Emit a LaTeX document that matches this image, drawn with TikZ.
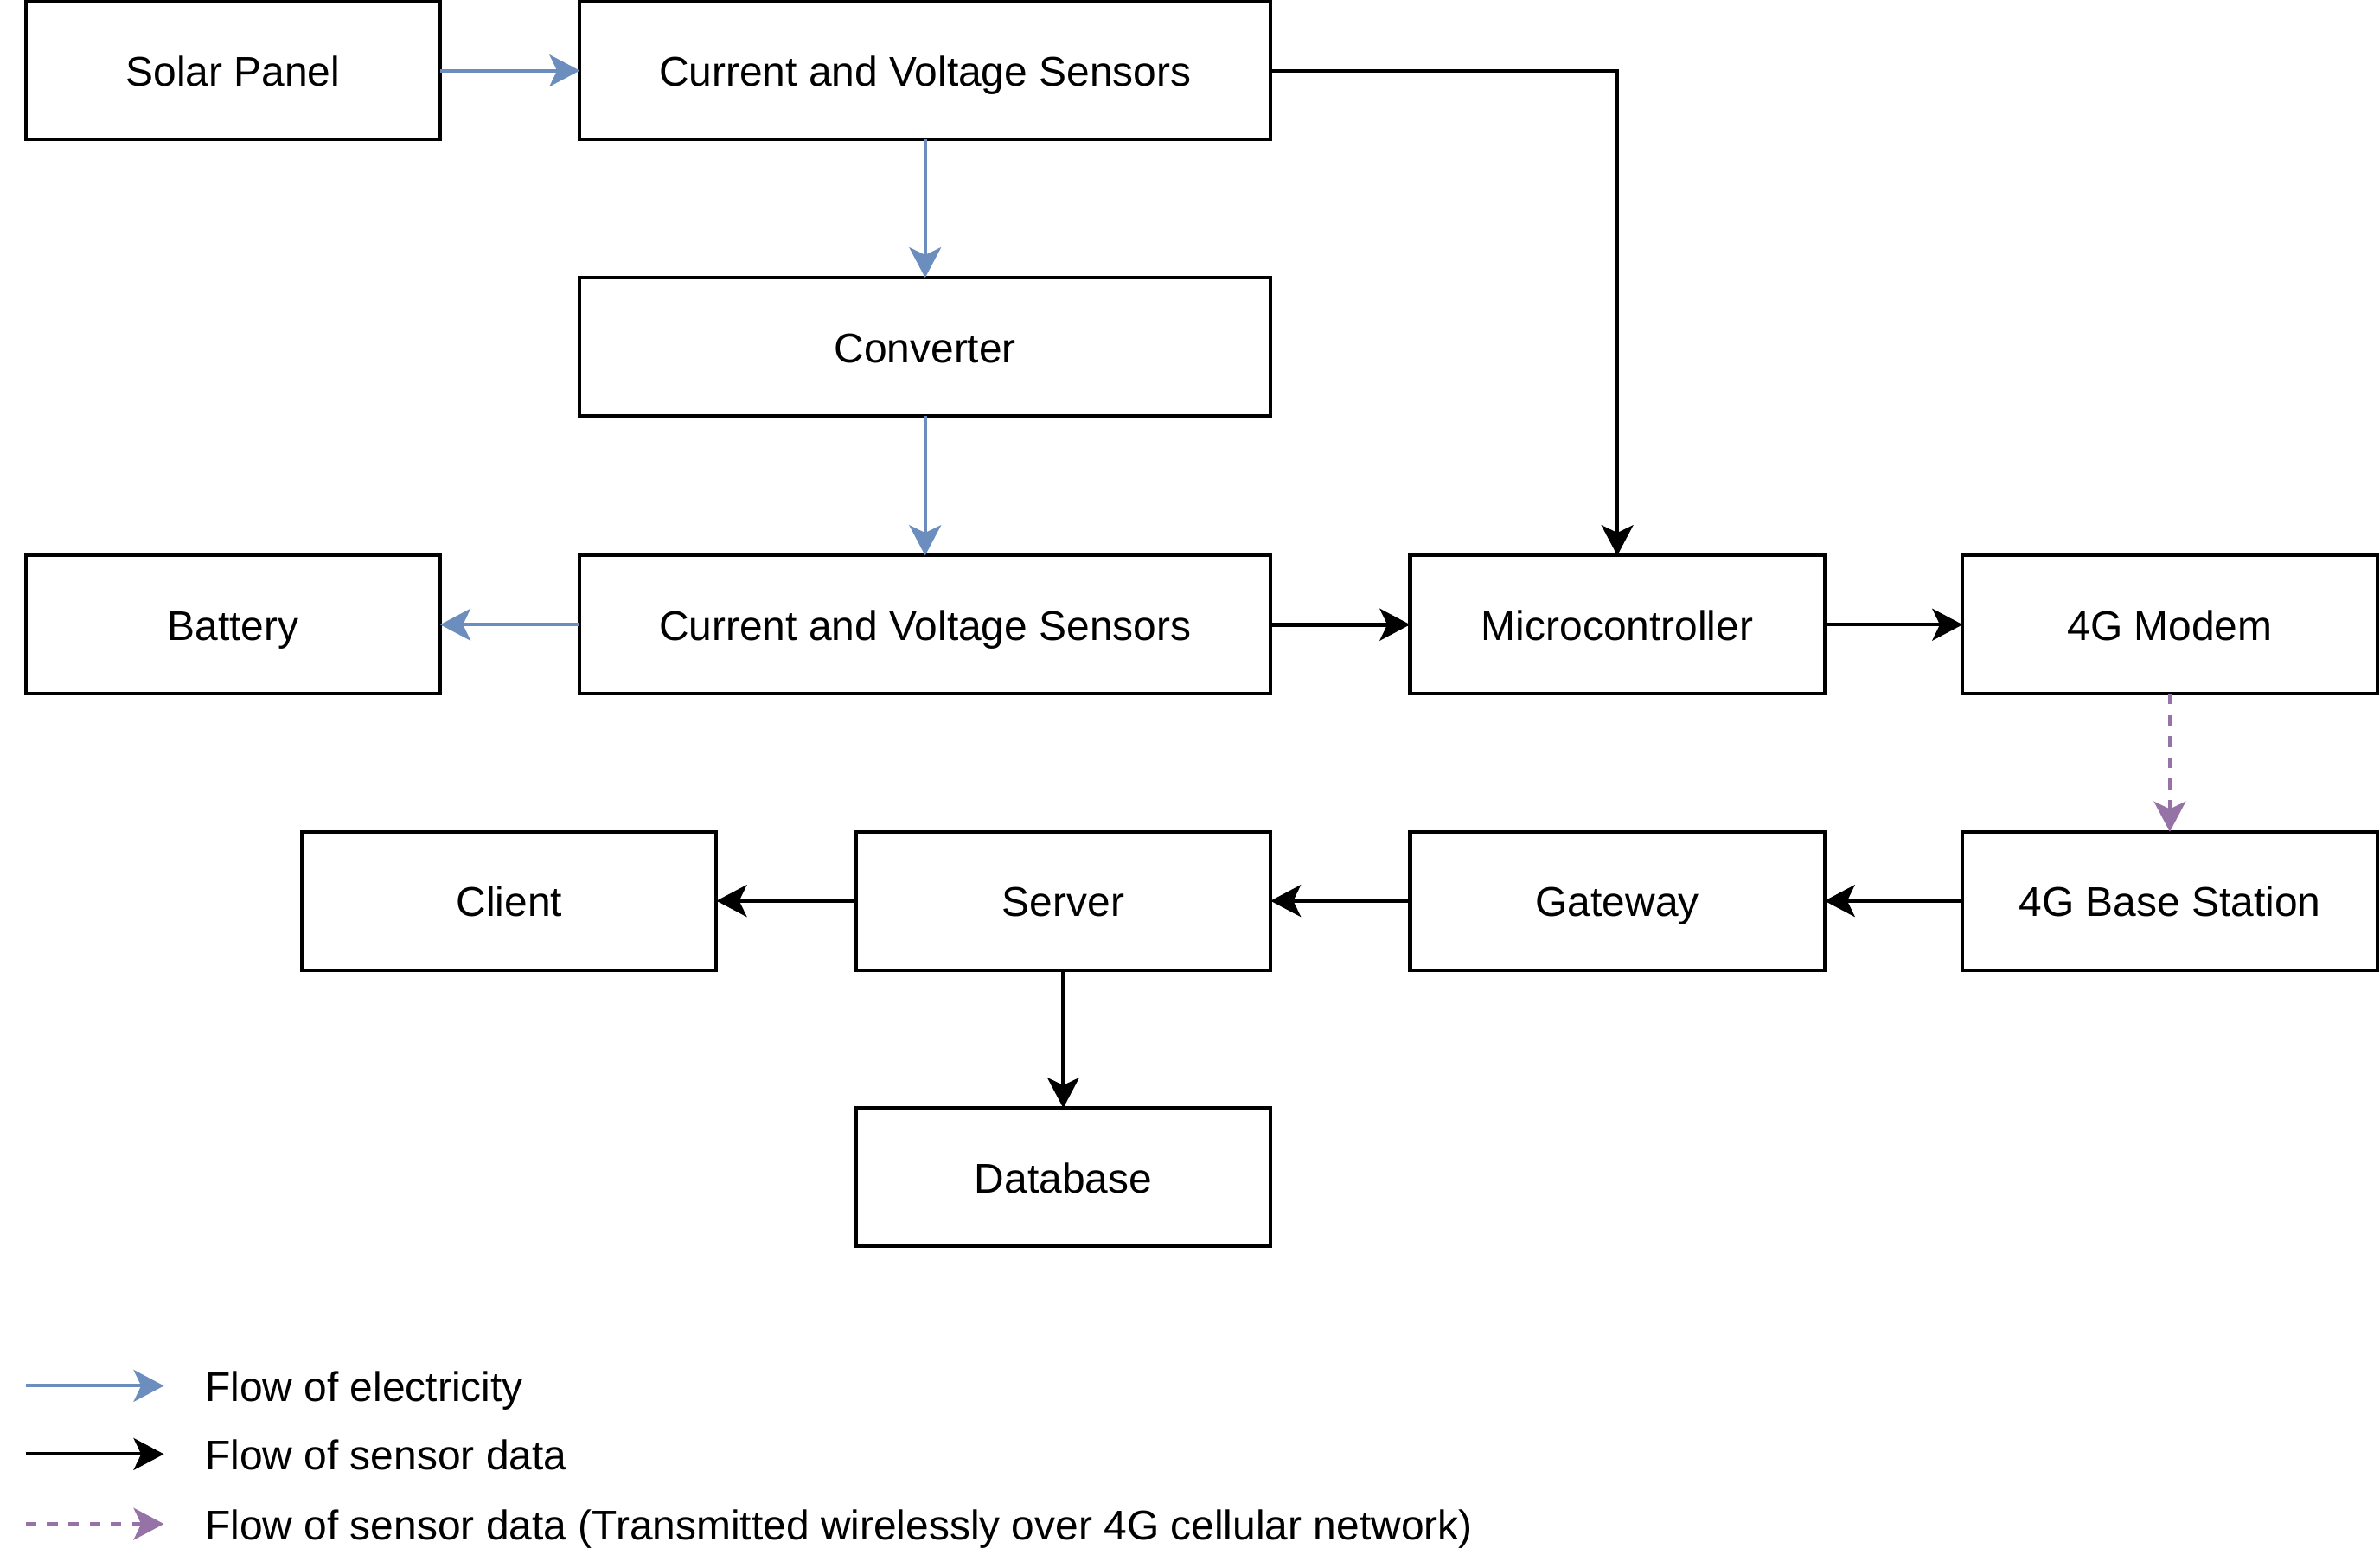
\documentclass[tikz,border=0pt]{standalone}
\usepackage{fontspec}
\setmainfont{Liberation Sans}
\usetikzlibrary{arrows.meta}
\definecolor{elec}{HTML}{6C8EBF}
\definecolor{wifi}{HTML}{9673A6}
\tikzset{
  box/.style={draw=black, line width=2.3pt, rectangle, minimum height=91pt, inner sep=0pt, outer sep=0pt, text height=25pt, text depth=4.4pt, font=\fontsize{27.3}{32}\selectfont},
  sbox/.style={box, minimum width=273pt},
  wbox/.style={box, minimum width=455pt},
  tip/.style={-{Stealth[length=20pt,width=21pt,inset=5pt]}},
  eflow/.style={tip, draw=elec, fill=elec, line width=2.3pt},
  dflow/.style={tip, draw=black, line width=2.3pt},
  wflow/.style={tip, draw=wifi, line width=2.3pt, dash pattern=on 7pt off 7pt},
  legtext/.style={anchor=west, inner sep=0pt, text height=25pt, text depth=4.4pt, font=\fontsize{27.3}{32}\selectfont}
}
\begin{document}
\begin{tikzpicture}[x=1pt,y=-1pt]
\useasboundingbox (0,0) rectangle (1568,1028);
\node[sbox] (solar) at (153.5,46.5) {Solar Panel};
\node[wbox] (cvs1) at (609.5,46.5) {Current and Voltage Sensors};
\node[wbox] (conv) at (609.5,228.5) {Converter};
\node[sbox] (batt) at (153.5,411.5) {Battery};
\node[wbox] (cvs2) at (609.5,411.5) {Current and Voltage Sensors};
\node[sbox] (micro) at (1065.5,411.5) {Microcontroller};
\node[sbox] (modem) at (1429.5,411.5) {4G Modem};
\node[sbox] (client) at (335.5,593.5) {Client};
\node[sbox] (server) at (700.5,593.5) {Server};
\node[sbox] (gate) at (1065.5,593.5) {Gateway};
\node[sbox] (base) at (1429.5,593.5) {4G Base Station};
\node[sbox] (db) at (700.5,775.5) {Database};

\draw[eflow] (solar.east) -- (cvs1.west);
\draw[eflow] (cvs1.south) -- (conv.north);
\draw[eflow] (conv.south) -- (cvs2.north);
\draw[eflow] (cvs2.west) -- (batt.east);
\draw[dflow] (cvs1.east) -| (micro.north);
\draw[dflow, line width=2.8pt] (cvs2.east) -- (micro.west);
\draw[dflow] (micro.east) -- (modem.west);
\draw[wflow] (modem.south) -- (base.north);
\draw[dflow] (base.west) -- (gate.east);
\draw[dflow] (gate.west) -- (server.east);
\draw[dflow] (server.west) -- (client.east);
\draw[dflow] (server.south) -- (db.north);

\coordinate (l1a) at (17,913);
\coordinate (l1b) at (108,913);
\coordinate (l2a) at (17,958);
\coordinate (l2b) at (108,958);
\coordinate (l3a) at (17,1004);
\coordinate (l3b) at (108,1004);
\draw[eflow] (l1a) -- (l1b);
\draw[dflow] (l2a) -- (l2b);
\draw[wflow] (l3a) -- (l3b);
\node[legtext] (t1) at (135,913) {Flow of electricity};
\node[legtext] (t2) at (135,958) {Flow of sensor data};
\node[legtext] (t3) at (135,1004) {Flow of sensor data (Transmitted wirelessly over 4G cellular network)};
\end{tikzpicture}
\end{document}
